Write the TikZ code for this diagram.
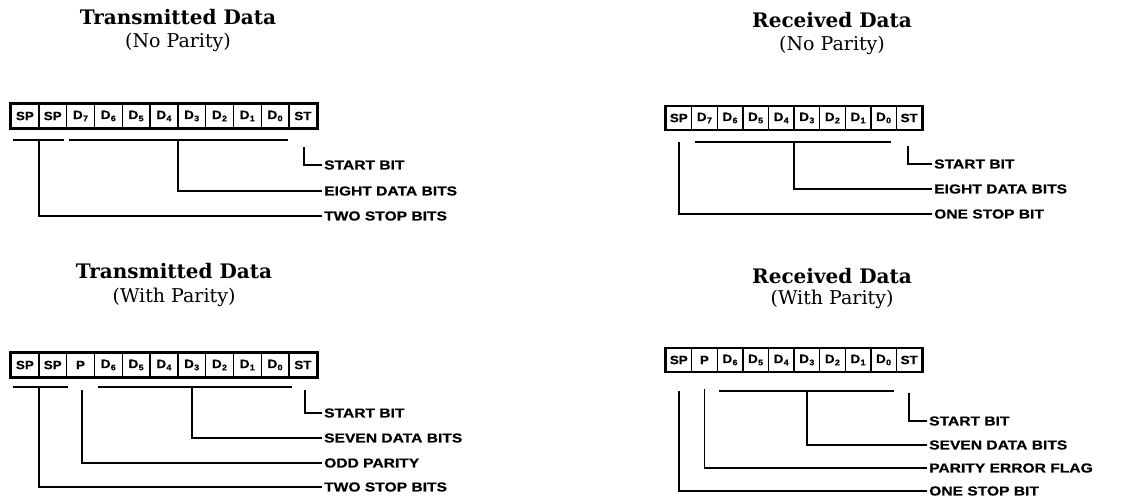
\documentclass[tikz,border=0pt]{standalone}
\usepackage{fontspec}
\setmainfont{DejaVu Serif}
\newfontfamily\lblfnt[FakeStretch=1.2, BoldFeatures={FakeBold=0.6}]{Liberation Sans}
\newfontfamily\cellfnt[FakeStretch=1.12, BoldFeatures={FakeBold=0.5}]{Liberation Sans}
\usetikzlibrary{calc}
\tikzset{
  ttl/.style={font=\fontsize{20}{24}\selectfont\bfseries, inner sep=0pt},
  sub/.style={font=\fontsize{19}{22}\selectfont, inner sep=0pt},
  lbl/.style={font=\lblfnt\bfseries\fontsize{13}{15}\selectfont, anchor=west, inner xsep=2pt, inner ysep=0pt},
  brk/.style={line width=1.8pt},
  frame/.style={line width=2.4pt},
  cellbase/.style={draw, line width=1.4pt, inner sep=0pt, font=\cellfnt\bfseries\fontsize{12}{14}\selectfont},
  cellA/.style={cellbase, minimum width=27.8pt, minimum height=24pt},
  cellR/.style={cellbase, minimum width=25.6pt, minimum height=23pt},
}
\newcommand{\Dsub}[1]{D\kern0.3pt\raisebox{-0.35ex}{\fontsize{8}{9}\selectfont #1}}
\begin{document}
\begin{tikzpicture}[x=1pt,y=-1pt]
\useasboundingbox (0,0) rectangle (1137,500);

% ---------------- Panel A: Transmitted, no parity ----------------
\node[ttl] (Atitle) at (178,17) {Transmitted Data};
\node[sub] (Asub) at (178,42) {(No Parity)};
\foreach \t [count=\i] in {SP,SP,\Dsub{7},\Dsub{6},\Dsub{5},\Dsub{4},\Dsub{3},\Dsub{2},\Dsub{1},\Dsub{0},ST}
  \node[cellA] (A\i) at ({11+13.9+(\i-1)*27.8},116) {\t};
\draw[frame] (A1.north west) rectangle (A11.south east);
\node[lbl] (Al1) at (322,165) {START BIT};
\node[lbl] (Al2) at (322,191) {EIGHT DATA BITS};
\node[lbl] (Al3) at (322,216) {TWO STOP BITS};
\coordinate (Aa) at (13,140); \coordinate (Ab) at (64,140);
\coordinate (Ac) at (69,140); \coordinate (Ad) at (288,140);
\coordinate (Asp) at (38.8,140); \coordinate (Adt) at (177.8,140); \coordinate (Ast) at (304,147);
\draw[brk] (Aa) -- (Ab);
\draw[brk] (Ac) -- (Ad);
\draw[brk] (Asp) |- (Al3.west);
\draw[brk] (Adt) |- (Al2.west);
\draw[brk] (Ast) |- (Al1.west);

% ---------------- Panel B: Transmitted, with parity ----------------
\node[ttl] (Btitle) at (174,271) {Transmitted Data};
\node[sub] (Bsub) at (174,297) {(With Parity)};
\foreach \t [count=\i] in {SP,SP,P,\Dsub{6},\Dsub{5},\Dsub{4},\Dsub{3},\Dsub{2},\Dsub{1},\Dsub{0},ST}
  \node[cellA] (B\i) at ({11+13.9+(\i-1)*27.8},365) {\t};
\draw[frame] (B1.north west) rectangle (B11.south east);
\node[lbl] (Bl1) at (322,413) {START BIT};
\node[lbl] (Bl2) at (322,438) {SEVEN DATA BITS};
\node[lbl] (Bl3) at (322,463) {ODD PARITY};
\node[lbl] (Bl4) at (322,487) {TWO STOP BITS};
\coordinate (Ba) at (13,387); \coordinate (Bb) at (68,387);
\coordinate (Bc) at (98,387); \coordinate (Bd) at (292,387);
\coordinate (Bsp) at (38.8,387); \coordinate (Bp) at (82,390);
\coordinate (Bdt) at (192,387); \coordinate (Bst) at (305,390);
\draw[brk] (Ba) -- (Bb);
\draw[brk] (Bc) -- (Bd);
\draw[brk] (Bsp) |- (Bl4.west);
\draw[brk] (Bp) |- (Bl3.west);
\draw[brk] (Bdt) |- (Bl2.west);
\draw[brk] (Bst) |- (Bl1.west);

% ---------------- Panel C: Received, no parity ----------------
\node[ttl] (Ctitle) at (832,20) {Received Data};
\node[sub] (Csub) at (832,45) {(No Parity)};
\foreach \t [count=\i] in {SP,\Dsub{7},\Dsub{6},\Dsub{5},\Dsub{4},\Dsub{3},\Dsub{2},\Dsub{1},\Dsub{0},ST}
  \node[cellR] (C\i) at ({666+12.8+(\i-1)*25.6},118) {\t};
\draw[frame] (C1.north west) rectangle (C10.south east);
\node[lbl] (Cl1) at (932,164) {START BIT};
\node[lbl] (Cl2) at (932,189) {EIGHT DATA BITS};
\node[lbl] (Cl3) at (932,214) {ONE STOP BIT};
\coordinate (Cc) at (695,142); \coordinate (Cd) at (891,142);
\coordinate (Csp) at (679,142); \coordinate (Cdt) at (794,142); \coordinate (Cst) at (908,146);
\draw[brk] (Cc) -- (Cd);
\draw[brk] (Csp) |- (Cl3.west);
\draw[brk] (Cdt) |- (Cl2.west);
\draw[brk] (Cst) |- (Cl1.west);

% ---------------- Panel D: Received, with parity ----------------
\node[ttl] (Dtitle) at (832,276) {Received Data};
\node[sub] (Dsub) at (832,299) {(With Parity)};
\foreach \t [count=\i] in {SP,P,\Dsub{6},\Dsub{5},\Dsub{4},\Dsub{3},\Dsub{2},\Dsub{1},\Dsub{0},ST}
  \node[cellR] (D\i) at ({666+12.8+(\i-1)*25.6},360) {\t};
\draw[frame] (D1.north west) rectangle (D10.south east);
\node[lbl] (Dl1) at (927,421) {START BIT};
\node[lbl] (Dl2) at (927,445) {SEVEN DATA BITS};
\node[lbl] (Dl3) at (927,468) {PARITY ERROR FLAG};
\node[lbl] (Dl4) at (927,491) {ONE STOP BIT};
\coordinate (Dc) at (719,391); \coordinate (Dd) at (894,391);
\coordinate (Dsp) at (679,391); \coordinate (Dp) at (704.4,389);
\coordinate (Ddt) at (806.8,391); \coordinate (Dst) at (909,393);
\draw[brk] (Dc) -- (Dd);
\draw[brk] (Dsp) |- (Dl4.west);
\draw[brk] (Dp) |- (Dl3.west);
\draw[brk] (Ddt) |- (Dl2.west);
\draw[brk] (Dst) |- (Dl1.west);
\end{tikzpicture}
\end{document}
